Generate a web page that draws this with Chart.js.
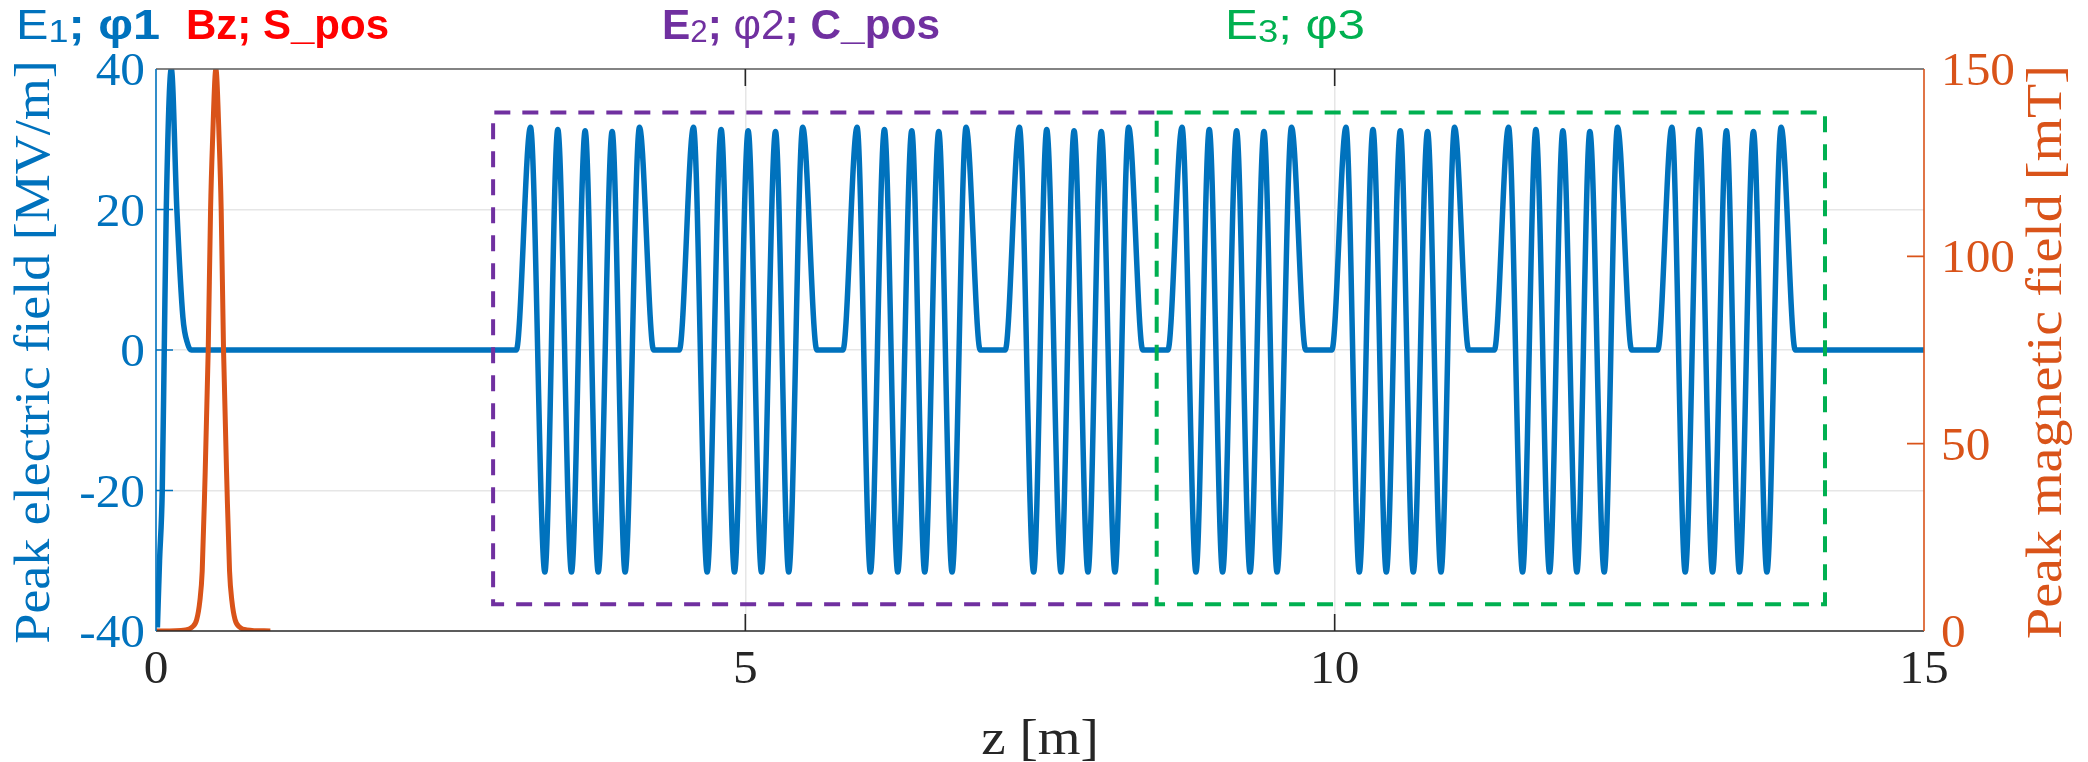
<!DOCTYPE html>
<html>
<head>
<meta charset="utf-8">
<script src="https://cdn.jsdelivr.net/npm/chart.js@4.4.1/dist/chart.umd.min.js"></script>
<style>
  html, body { margin: 0; padding: 0; background: #ffffff; }
  #fieldChart { display: block; }
</style>
</head>
<body>
<canvas id="fieldChart" width="2088" height="762" style="width:2088px;height:762px"></canvas>
<script>
// RF gun (E1) on-axis field, z [m] / E [MV/m]
const gunZ = [0.012, 0.03, 0.053, 0.07, 0.087, 0.13, 0.177, 0.228, 0.27, 0.30];
const gunE = [-39.5, -30, -20, 0, 20, 40, 20, 4.7, 0.8, 0];

// booster cavities: cell extrema positions, one row per 9-cell cavity
const cavityCellZ = [
    [3.177, 3.299, 3.409, 3.525, 3.641, 3.752, 3.870, 3.980, 4.102],
    [4.560, 4.676, 4.795, 4.908, 5.024, 5.137, 5.256, 5.368, 5.487],
    [5.948, 6.061, 6.180, 6.293, 6.412, 6.522, 6.641, 6.754, 6.873],
    [7.325, 7.446, 7.557, 7.678, 7.789, 7.907, 8.020, 8.136, 8.252],
    [8.705, 8.823, 8.936, 9.049, 9.168, 9.282, 9.400, 9.511, 9.634],
    [10.096, 10.209, 10.325, 10.438, 10.557, 10.667, 10.788, 10.902, 11.017],
    [11.475, 11.594, 11.707, 11.823, 11.936, 12.055, 12.165, 12.287, 12.400],
    [12.861, 12.974, 13.092, 13.206, 13.324, 13.434, 13.553, 13.667, 13.788]
];
// where each cavity field leaves / returns to zero
const cavityStartZ = [3.057, 4.440, 5.828, 7.205, 8.585, 9.976, 11.355, 12.741];
const cavityEndZ = [4.222, 5.607, 6.993, 8.372, 9.754, 11.137, 12.520, 13.908];
// peak field in each cell [MV/m]
const cellE = [31.7, -31.6, 31.4, -31.6, 31.2, -31.6, 31.1, -31.6, 31.7];
const beamlineEndZ = 15;

// solenoid (Bz) on-axis field, z [m] / B [mT]
const solZ = [0, 0.25, 0.305, 0.345, 0.372, 0.392, 0.413, 0.443, 0.463, 0.479, 0.508,
              0.537, 0.553, 0.573, 0.603, 0.624, 0.644, 0.671, 0.711, 0.77, 0.97];
const solB = [0, 0.3, 1, 3, 8, 16, 37.5, 75, 112.5, 130, 150,
              130, 112.5, 75, 37.5, 16, 8, 3, 1, 0.3, 0];

// dashed frames around the two booster sections
const cposBoxZ = [2.86, 8.47];
const cposBoxE = [-36.2, 33.8];
const phi3BoxZ = [8.49, 14.16];
const phi3BoxE = [-36.2, 33.8];

const xTicks = [0, 5, 10, 15];
const eTicks = [-40, -20, 0, 20, 40];
const bTicks = [0, 50, 100, 150];

const BLUE = "#0072BD";
const ORANGE = "#D95319";
const PURPLE = "#7030A0";
const GREEN = "#00B050";
const DARK = "#262626";

const SERIF = "'Liberation Serif', 'Times New Roman', serif";
const SANS = "'Liberation Sans', Arial, sans-serif";

// build the E-field trace
const ePoints = [];
gunZ.forEach((z, i) => ePoints.push({ x: z, y: gunE[i] }));
cavityCellZ.forEach((row, c) => {
    ePoints.push({ x: cavityStartZ[c], y: 0 });
    row.forEach((z, i) => ePoints.push({ x: z, y: cellE[i] }));
    ePoints.push({ x: cavityEndZ[c], y: 0 });
});
ePoints.push({ x: beamlineEndZ, y: 0 });

const bPoints = solZ.map((z, i) => ({ x: z, y: solB[i] }));

// closed rectangle
function boxPoints(zs, es) {
    return [
        { x: zs[0], y: es[1] }, { x: zs[1], y: es[1] },
        { x: zs[1], y: es[0] }, { x: zs[0], y: es[0] },
        { x: zs[0], y: es[1] }
    ];
}

// rectangle without its right side (that side is covered by the next frame)
function openBoxPoints(zs, es) {
    return [
        { x: zs[1], y: es[1] }, { x: zs[0], y: es[1] },
        { x: zs[0], y: es[0] }, { x: zs[1], y: es[0] }
    ];
}

// text widened along its baseline (the axis font is a wide book face)
function wideText(ctx, text, x, y, sx, rot) {
    ctx.save();
    ctx.translate(x, y);
    if (rot) ctx.rotate(rot);
    ctx.scale(sx, 1);
    ctx.fillText(text, 0, 0);
    ctx.restore();
}

// label made of differently styled pieces, fitted to a given width
function drawRuns(ctx, x, y, width, runs) {
    const fontOf = r => (r.bold ? "bold " : "") + (r.sub ? 31 : 42) + "px " + SANS;
    let total = 0;
    runs.forEach(r => { ctx.font = fontOf(r); total += ctx.measureText(r.text).width; });
    ctx.save();
    ctx.translate(x, y);
    ctx.scale(width / total, 1);
    let cx = 0;
    runs.forEach(r => {
        ctx.font = fontOf(r);
        ctx.fillStyle = r.color;
        ctx.fillText(r.text, cx, r.sub ? 3 : 0);
        cx += ctx.measureText(r.text).width;
    });
    ctx.restore();
}

const framePlugin = {
    id: "frame",
    afterDraw(chart) {
        const ctx = chart.ctx;
        const a = chart.chartArea;
        const xs = chart.scales.x, ys = chart.scales.y, bs = chart.scales.y2;
        const tl = 17;
        ctx.save();
        ctx.lineWidth = 1.6;

        // top and bottom box lines
        ctx.strokeStyle = "#5a5a5a";
        ctx.beginPath();
        ctx.moveTo(a.left, a.top); ctx.lineTo(a.right, a.top);
        ctx.stroke();
        ctx.strokeStyle = DARK;
        ctx.beginPath();
        ctx.moveTo(a.left, a.bottom); ctx.lineTo(a.right, a.bottom);
        ctx.stroke();

        // inward x ticks
        ctx.strokeStyle = DARK;
        xTicks.slice(1, -1).forEach(v => {
            const px = xs.getPixelForValue(v);
            ctx.beginPath();
            ctx.moveTo(px, a.bottom); ctx.lineTo(px, a.bottom - tl);
            ctx.moveTo(px, a.top); ctx.lineTo(px, a.top + tl);
            ctx.stroke();
        });

        // left axis
        ctx.strokeStyle = BLUE;
        ctx.beginPath();
        ctx.moveTo(a.left, a.top); ctx.lineTo(a.left, a.bottom);
        eTicks.slice(1, -1).forEach(v => {
            const py = ys.getPixelForValue(v);
            ctx.moveTo(a.left, py); ctx.lineTo(a.left + tl, py);
        });
        ctx.stroke();

        // right axis
        ctx.strokeStyle = ORANGE;
        ctx.beginPath();
        ctx.moveTo(a.right, a.top); ctx.lineTo(a.right, a.bottom);
        bTicks.slice(1, -1).forEach(v => {
            const py = bs.getPixelForValue(v);
            ctx.moveTo(a.right, py); ctx.lineTo(a.right - tl, py);
        });
        ctx.stroke();

        // tick labels
        const sx = 1.05;
        ctx.font = "47px " + SERIF;
        ctx.textBaseline = "alphabetic";
        ctx.fillStyle = DARK;
        ctx.textAlign = "center";
        xTicks.forEach(v => wideText(ctx, String(v), xs.getPixelForValue(v), 683, sx));
        ctx.fillStyle = BLUE;
        ctx.textAlign = "right";
        eTicks.forEach(v => wideText(ctx, String(v), a.left - 11, ys.getPixelForValue(v) + 16, sx));
        ctx.fillStyle = ORANGE;
        ctx.textAlign = "left";
        bTicks.forEach(v => wideText(ctx, String(v), a.right + 17, bs.getPixelForValue(v) + 16, sx));

        // axis titles
        const midY = (a.top + a.bottom) / 2;
        ctx.font = "50px " + SERIF;
        ctx.textAlign = "center";
        ctx.textBaseline = "middle";
        ctx.fillStyle = BLUE;
        wideText(ctx, "Peak electric field [MV/m]", 36, midY + 2, 1.08, -Math.PI / 2);
        ctx.fillStyle = ORANGE;
        wideText(ctx, "Peak magnetic field [mT]", 2048, midY + 2, 1.12, -Math.PI / 2);
        ctx.fillStyle = DARK;
        wideText(ctx, "z [m]", (a.left + a.right) / 2, 741, 1.1);

        // section labels above the plot
        ctx.textAlign = "left";
        ctx.textBaseline = "alphabetic";
        drawRuns(ctx, 16, 39, 144, [
            { text: "E", color: BLUE },
            { text: "1", color: BLUE, sub: true },
            { text: "; φ1", color: BLUE, bold: true }
        ]);
        drawRuns(ctx, 186, 39, 203, [
            { text: "Bz; S_pos", color: "#FF0000", bold: true }
        ]);
        drawRuns(ctx, 662, 39, 278, [
            { text: "E", color: PURPLE, bold: true },
            { text: "2", color: PURPLE, sub: true },
            { text: ";", color: PURPLE, bold: true },
            { text: " φ2", color: PURPLE },
            { text: "; C_pos", color: PURPLE, bold: true }
        ]);
        drawRuns(ctx, 1225, 39, 140, [
            { text: "E", color: GREEN },
            { text: "3", color: GREEN, sub: true },
            { text: "; φ3", color: GREEN }
        ]);
        ctx.restore();
    }
};

new Chart(document.getElementById("fieldChart"), {
    type: "line",
    data: {
        datasets: [
            {
                data: boxPoints(phi3BoxZ, phi3BoxE),
                yAxisID: "y",
                borderColor: GREEN,
                borderWidth: 4,
                borderDash: [16, 12],
                pointRadius: 0,
                tension: 0
            },
            {
                data: openBoxPoints(cposBoxZ, cposBoxE),
                yAxisID: "y",
                borderColor: PURPLE,
                borderWidth: 4,
                borderDash: [16, 12],
                pointRadius: 0,
                tension: 0
            },
            {
                data: bPoints,
                yAxisID: "y2",
                borderColor: ORANGE,
                borderWidth: 5,
                pointRadius: 0,
                cubicInterpolationMode: "monotone"
            },
            {
                data: ePoints,
                yAxisID: "y",
                borderColor: BLUE,
                borderWidth: 5.5,
                pointRadius: 0,
                cubicInterpolationMode: "monotone"
            }
        ]
    },
    options: {
        responsive: false,
        animation: false,
        layout: { padding: { top: 69, left: 0, right: 0, bottom: 0 } },
        plugins: {
            legend: { display: false },
            tooltip: { enabled: false }
        },
        scales: {
            x: {
                type: "linear",
                min: 0,
                max: 15,
                afterBuildTicks: s => { s.ticks = xTicks.map(v => ({ value: v })); },
                afterFit: s => { s.height = 131; },
                ticks: { display: false },
                grid: {
                    drawTicks: false,
                    lineWidth: 1.5,
                    color: c => (c.tick && (c.tick.value === 0 || c.tick.value === 15)) ? "rgba(0,0,0,0)" : "#e6e6e6"
                },
                border: { display: false }
            },
            y: {
                position: "left",
                min: -40,
                max: 40,
                afterBuildTicks: s => { s.ticks = eTicks.map(v => ({ value: v })); },
                afterFit: s => { s.width = 156; },
                ticks: { display: false },
                grid: {
                    drawTicks: false,
                    lineWidth: 1.5,
                    color: c => (c.tick && Math.abs(c.tick.value) === 40) ? "rgba(0,0,0,0)" : "#e6e6e6"
                },
                border: { display: false }
            },
            y2: {
                position: "right",
                min: 0,
                max: 150,
                afterBuildTicks: s => { s.ticks = bTicks.map(v => ({ value: v })); },
                afterFit: s => { s.width = 164; },
                ticks: { display: false },
                grid: { drawOnChartArea: false, drawTicks: false },
                border: { display: false }
            }
        }
    },
    plugins: [framePlugin]
});
</script>
</body>
</html>
